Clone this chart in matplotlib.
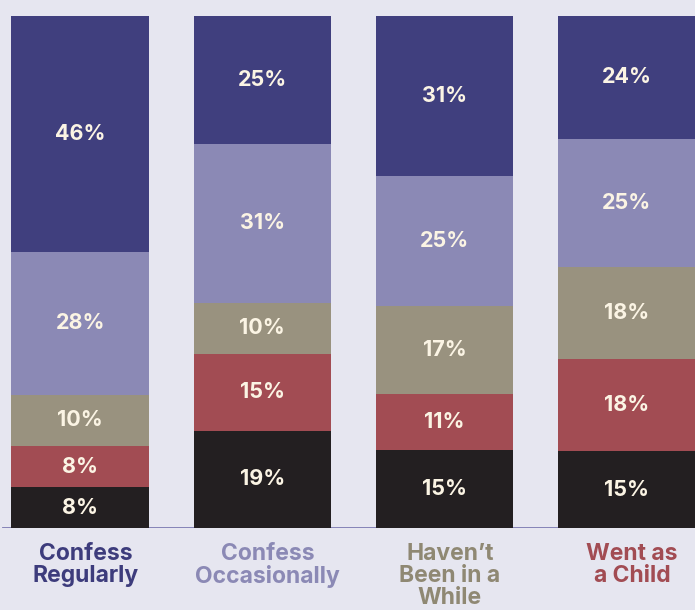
import numpy as np
import matplotlib.pyplot as plt

plt.rcParams['font.family'] = ['Inter', 'DejaVu Sans']

# Survey groups and answer shares (bottom to top within each bar)
groups = ['Confess\nRegularly', 'Confess\nOccasionally', 'Haven\u2019t\nBeen in a\nWhile', 'Went as\na Child']
segments = ['black', 'red', 'tan', 'lavender', 'navy']
black = [8, 19, 15, 15]
red = [8, 15, 11, 18]
tan = [10, 10, 17, 18]
lavender = [28, 31, 25, 25]
navy = [46, 25, 31, 24]

seg_colors = ['#231f21', '#a24c53', '#99927f', '#8b89b5', '#403f7e']
label_colors = ['#3d3c7c', '#8b89b5', '#8f8873', '#a24c53']
bg = '#e6e6f0'

values = np.array([black, red, tan, lavender, navy], dtype=float)
totals = values.sum(axis=0)
heights = values / totals * 100  # each bar fills the full height

fig = plt.figure(figsize=(6.95, 6.1), dpi=100, facecolor=bg)
ax = fig.add_axes([0, 82 / 610, 1, 512 / 610])
ax.set_facecolor(bg)

x = np.arange(len(groups))
bottom = np.zeros(len(groups))
for i in range(len(segments)):
    ax.bar(x, heights[i], bottom=bottom, width=0.755, color=seg_colors[i], zorder=3)
    for j in range(len(groups)):
        ax.text(x[j], bottom[j] + heights[i][j] / 2, f'{int(values[i][j])}%',
                ha='center', va='center', color='#fbf4e4', fontsize=15.5,
                fontweight='bold', zorder=4)
    bottom += heights[i]

# baseline under the bars
ax.axhline(0, xmin=0.004, xmax=1, color='#7d7bb3', linewidth=1.3, zorder=1)

for j, g in enumerate(groups):
    ax.text(x[j] + 0.03, -3.0, g, ha='center', va='top', color=label_colors[j],
            fontsize=16.5, fontweight='bold', linespacing=1.0, clip_on=False)

ax.set_xlim(-0.44, 3.375)
ax.set_ylim(0, 100)
ax.axis('off')

fig.savefig('out.png', dpi=100, facecolor=bg)
